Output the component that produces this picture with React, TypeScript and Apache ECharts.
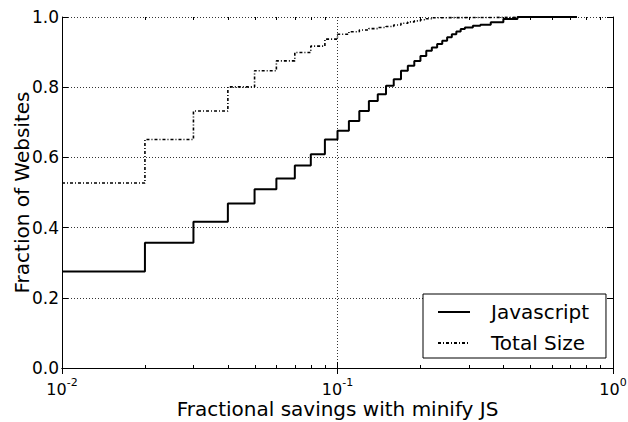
import React, { useEffect, useRef } from "react";
import * as echarts from "echarts";

// Javascript CDF (step points: value holds from x until next x)
const jsX = [0.01, 0.02, 0.03, 0.04, 0.05, 0.06, 0.07, 0.08, 0.09, 0.1, 0.11, 0.12, 0.13, 0.14, 0.15, 0.16, 0.17, 0.18, 0.19, 0.2, 0.21, 0.22, 0.23, 0.24, 0.25, 0.26, 0.27, 0.28, 0.29, 0.31, 0.33, 0.36, 0.4, 0.45, 0.74];
const jsY = [0.275, 0.357, 0.417, 0.469, 0.509, 0.54, 0.577, 0.609, 0.651, 0.676, 0.704, 0.732, 0.761, 0.78, 0.804, 0.823, 0.847, 0.861, 0.875, 0.889, 0.904, 0.913, 0.923, 0.932, 0.942, 0.951, 0.959, 0.966, 0.97, 0.975, 0.978, 0.985, 0.994, 1.0, 1.0];

// Total Size CDF
const tsX = [0.01, 0.02, 0.03, 0.04, 0.05, 0.06, 0.07, 0.08, 0.09, 0.1, 0.11, 0.12, 0.13, 0.14, 0.15, 0.16, 0.17, 0.18, 0.19, 0.2, 0.21, 0.22, 0.24, 0.74];
const tsY = [0.527, 0.651, 0.732, 0.801, 0.847, 0.875, 0.899, 0.917, 0.937, 0.951, 0.958, 0.963, 0.967, 0.97, 0.973, 0.977, 0.982, 0.986, 0.989, 0.992, 0.995, 0.998, 1.0, 1.0];

const minorTicks = [0.02, 0.03, 0.04, 0.05, 0.06, 0.07, 0.08, 0.09, 0.2, 0.3, 0.4, 0.5, 0.6, 0.7, 0.8, 0.9];

const seriesNames = ["Javascript", "Total Size"];
const xName = "Fractional savings with minify JS";
const yName = "Fraction of Websites";

const FONT = "DejaVu Sans";

export default function App() {
  const ref = useRef<HTMLDivElement>(null);
  useEffect(() => {
    document.body.style.margin = "0";
    const chart = echarts.init(ref.current!, null, { renderer: "svg" });
    const dotted = { color: "#000", width: 0.8, type: [1, 2] as any };
    chart.setOption({
      animation: false,
      backgroundColor: "#fff",
      textStyle: { fontFamily: FONT, color: "#000" },
      grid: { left: 62, right: 15, top: 17, bottom: 54, containLabel: false, outerBoundsMode: "none" },
      legend: {
        data: seriesNames,
        orient: "vertical",
        left: 423,
        top: 294,
        itemWidth: 32,
        itemHeight: 14,
        itemGap: 11,
        padding: [8, 17, 5, 14],
        borderColor: "#000",
        borderWidth: 1,
        borderRadius: 0,
        backgroundColor: "#fff",
        itemStyle: { opacity: 0 },
        textStyle: { fontSize: 20, color: "#000", fontFamily: FONT, padding: [0, 0, 0, 16] },
      },
      xAxis: [
        {
          type: "log",
          logBase: 10,
          min: 0.01,
          max: 1,
          name: xName,
          nameLocation: "middle",
          nameGap: 30,
          nameMoveOverlap: false,
          nameTextStyle: { fontSize: 20, color: "#000", fontFamily: FONT, lineHeight: 22 },
          axisLine: { show: true, lineStyle: { color: "#000", width: 1 } },
          axisTick: { show: true, inside: true, length: 6, lineStyle: { color: "#000" } },
          splitLine: { show: true, lineStyle: dotted },
          axisLabel: {
            margin: 9,
            formatter: (v: number) => `{b|10}{s|${Math.round(Math.log10(v))}}`,
            rich: {
              b: { fontSize: 16, fontFamily: FONT, color: "#000", lineHeight: 20, verticalAlign: "bottom" },
              s: { fontSize: 11, fontFamily: FONT, color: "#000", lineHeight: 11, verticalAlign: "top" },
            },
          },
        },
        {
          type: "log",
          logBase: 10,
          min: 0.01,
          max: 1,
          position: "top",
          axisLine: { show: true, lineStyle: { color: "#000", width: 1 } },
          axisTick: { show: true, inside: true, length: 6, lineStyle: { color: "#000" } },
          splitLine: { show: false },
          axisLabel: { show: false },
        },
      ],
      yAxis: [
        {
          type: "value",
          min: 0,
          max: 1,
          interval: 0.2,
          name: yName,
          nameLocation: "middle",
          nameGap: 30,
          nameMoveOverlap: false,
          nameTextStyle: { fontSize: 20, color: "#000", fontFamily: FONT },
          axisLine: { show: true, lineStyle: { color: "#000", width: 1 } },
          axisTick: { show: true, inside: true, length: 6, lineStyle: { color: "#000" } },
          splitLine: { show: true, lineStyle: dotted },
          axisLabel: {
            margin: 3,
            fontSize: 17,
            color: "#000",
            fontFamily: FONT,
            formatter: (v: number) => v.toFixed(1),
          },
        },
        {
          type: "value",
          min: 0,
          max: 1,
          interval: 0.2,
          position: "right",
          axisLine: { show: true, lineStyle: { color: "#000", width: 1 } },
          axisTick: { show: true, inside: true, length: 6, lineStyle: { color: "#000" } },
          splitLine: { show: false },
          axisLabel: { show: false },
        },
      ],
      series: [
        {
          name: seriesNames[0],
          type: "line",
          step: "end",
          symbol: "none",
          xAxisIndex: 0,
          yAxisIndex: 0,
          data: jsX.map((x, i) => [x, jsY[i]]),
          lineStyle: { color: "#000", width: 2 },
          itemStyle: { color: "#000" },
          z: 5,
        },
        {
          name: seriesNames[1],
          type: "line",
          step: "end",
          symbol: "none",
          xAxisIndex: 0,
          yAxisIndex: 0,
          data: tsX.map((x, i) => [x, tsY[i]]),
          lineStyle: { color: "#000", width: 1.6, type: [3, 2, 1, 2] },
          itemStyle: { color: "#000" },
          z: 5,
        },
        {
          name: "minor",
          type: "custom",
          xAxisIndex: 0,
          yAxisIndex: 0,
          silent: true,
          clip: false,
          data: minorTicks.map((x) => [x, 0.5]),
          renderItem: (params: any, api: any) => {
            const cs = params.coordSys;
            const p = api.coord([api.value(0), 0.5]);
            const x = Math.round(p[0]) + 0.5;
            const top = cs.y;
            const bottom = cs.y + cs.height;
            return {
              type: "group",
              children: [
                { type: "line", shape: { x1: x, y1: bottom, x2: x, y2: bottom - 3 }, style: { stroke: "#000", lineWidth: 1 } },
                { type: "line", shape: { x1: x, y1: top, x2: x, y2: top + 3 }, style: { stroke: "#000", lineWidth: 1 } },
              ],
            };
          },
        },
      ],
    });
    return () => chart.dispose();
  }, []);
  return <div ref={ref} style={{ width: 628, height: 422 }} />;
}
